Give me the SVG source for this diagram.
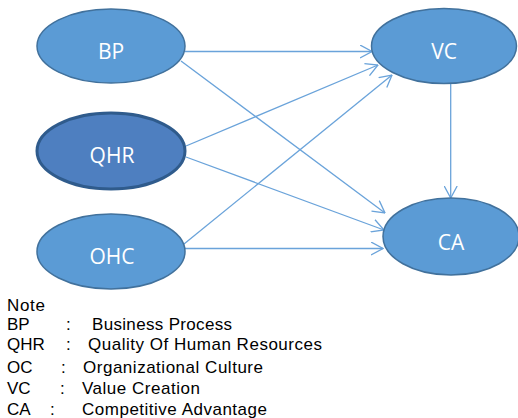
<svg xmlns="http://www.w3.org/2000/svg" width="518" height="418" viewBox="0 0 518 418">
<defs>
<marker id="arr" markerUnits="userSpaceOnUse" viewBox="0 0 13 14" refX="12.5" refY="7" markerWidth="13" markerHeight="14" orient="auto">
<path d="M0.5,0.5 L12.5,7 L0.5,13.5" fill="none" stroke="#6aa3da" stroke-width="1.3"/>
</marker>
</defs>
<style>
.node{fill:#5b9bd5;stroke:#41719c;stroke-width:1.5}
.node.hl{fill:#4e7fc0;stroke:#2f5b8c;stroke-width:3}
.lbl{font-family:"Open Sans","Noto Sans",sans-serif;font-size:21px;fill:#ffffff;text-anchor:middle}
.conn line{stroke:#6aa3da;stroke-width:1.3;marker-end:url(#arr)}
.note{font-family:"Liberation Sans",Arial,sans-serif;font-size:17px;fill:#000000}
</style>
<rect width="518" height="418" fill="#ffffff"/>
<g id="connectors" class="conn">
<line x1="185" y1="51.5" x2="372" y2="51.5"/>
<line x1="181" y1="61" x2="385" y2="213"/>
<line x1="186" y1="146" x2="378" y2="65"/>
<line x1="186" y1="157" x2="384" y2="230"/>
<line x1="184" y1="244" x2="392" y2="75"/>
<line x1="185" y1="248.5" x2="383" y2="248.5"/>
<line x1="450.7" y1="84" x2="450.7" y2="198"/>
</g>
<g id="BP"><ellipse class="node" cx="111" cy="46" rx="74" ry="37"/><text class="lbl" x="111" y="58.5">BP</text></g>
<g id="QHR"><ellipse class="node hl" cx="111" cy="151" rx="74" ry="38"/><text class="lbl" x="112" y="163">QHR</text></g>
<g id="OHC"><ellipse class="node" cx="111" cy="251.5" rx="74" ry="37.5"/><text class="lbl" x="112" y="264">OHC</text></g>
<g id="VC"><ellipse class="node" cx="444" cy="46" rx="72.5" ry="37.5"/><text class="lbl" x="444" y="58.5">VC</text></g>
<g id="CA"><ellipse class="node" cx="451" cy="236.5" rx="68" ry="38.5"/><text class="lbl" x="451" y="250">CA</text></g>
<g id="note" class="note">
<text x="7" y="310.5" textLength="38">Note</text>
<text x="7" y="330">BP</text><text x="66" y="330">:</text><text x="92" y="330" textLength="140">Business Process</text>
<text x="7" y="350">QHR</text><text x="66" y="350">:</text><text x="88" y="350" textLength="234">Quality Of Human Resources</text>
<text x="7" y="372.5">OC</text><text x="61" y="372.5">:</text><text x="83" y="372.5" textLength="180">Organizational Culture</text>
<text x="7" y="393.5">VC</text><text x="60" y="393.5">:</text><text x="82" y="393.5" textLength="118">Value Creation</text>
<text x="7" y="414.5">CA</text><text x="50" y="414.5">:</text><text x="82" y="414.5" textLength="185">Competitive Advantage</text>
</g>
</svg>
